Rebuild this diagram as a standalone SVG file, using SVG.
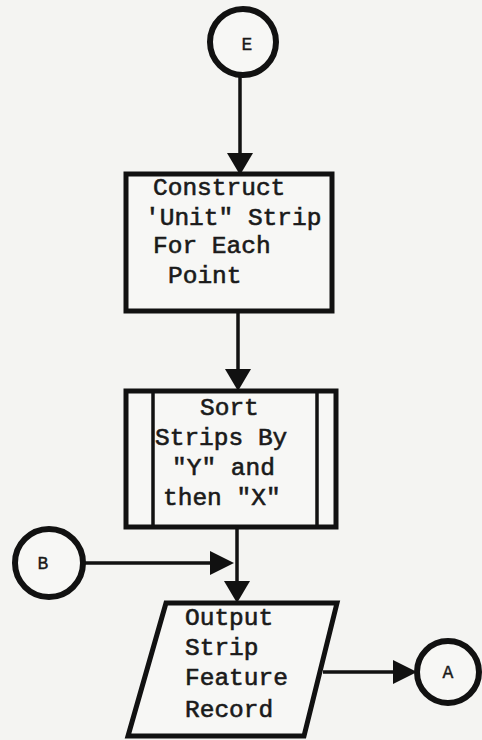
<svg xmlns="http://www.w3.org/2000/svg" width="482" height="740" viewBox="0 0 482 740">
<style>
.bg{fill:#f4f4f2}
.shape{fill:#f7f7f5;stroke:#111;stroke-width:5}
.circ{fill:#f7f7f5;stroke:#111;stroke-width:6}
.line{fill:none;stroke:#111;stroke-width:3.5}
.arr{fill:#111}
.t{font-family:"Liberation Mono","Courier New",monospace;font-size:24.5px;fill:#1a1a1a;stroke:#1a1a1a;stroke-width:0.6}
.c{font-family:"Liberation Mono","Courier New",monospace;font-size:18px;fill:#1a1a1a;text-anchor:middle;stroke:#1a1a1a;stroke-width:0.4}
</style>
<rect class="bg" x="0" y="0" width="482" height="740"/>
<g id="connectors">
  <line class="line" x1="240" y1="76" x2="240" y2="156"/>
  <polygon class="arr" points="227,153 253,153 240,175"/>
  <line class="line" x1="238" y1="312" x2="238" y2="372"/>
  <polygon class="arr" points="225,369 251,369 238,391"/>
  <line class="line" x1="237" y1="528" x2="237" y2="584"/>
  <polygon class="arr" points="224,581 250,581 237,603"/>
  <line class="line" x1="84" y1="563" x2="215" y2="563"/>
  <polygon class="arr" points="210,551 210,575 234,563"/>
  <line class="line" x1="323" y1="672" x2="398" y2="672"/>
  <polygon class="arr" points="393,660 393,684 417,672"/>
</g>
<g id="node-E">
  <circle class="circ" cx="243" cy="42" r="33" stroke-width="7"/>
  <text class="c" x="247" y="50" font-size="16" fill="#666" stroke="#666" stroke-width="0.2">E</text>
</g>
<g id="node-construct">
  <rect class="shape" x="126" y="174" width="206" height="137"/>
  <text class="t" x="153" y="195">Construct</text>
  <text class="t" x="145" y="225">'Unit" Strip</text>
  <text class="t" x="153" y="253">For Each</text>
  <text class="t" x="168" y="283">Point</text>
</g>
<g id="node-sort">
  <rect class="shape" x="126" y="391" width="210" height="136"/>
  <line class="line" x1="153" y1="391" x2="153" y2="527"/>
  <line class="line" x1="317" y1="391" x2="317" y2="527"/>
  <text class="t" x="200" y="415">Sort</text>
  <text class="t" x="155" y="445">Strips By</text>
  <text class="t" x="172" y="475">"Y" and</text>
  <text class="t" x="163" y="505">then "X"</text>
</g>
<g id="node-B">
  <circle class="circ" cx="49" cy="563" r="34" stroke-width="5"/>
  <text class="c" x="43" y="569">B</text>
</g>
<g id="node-output">
  <polygon class="shape" points="166,603 337,603 304,736 128,736"/>
  <text class="t" x="185" y="625">Output</text>
  <text class="t" x="185" y="655">Strip</text>
  <text class="t" x="185" y="685">Feature</text>
  <text class="t" x="185" y="717">Record</text>
</g>
<g id="node-A">
  <circle class="circ" cx="448" cy="672" r="31" stroke-width="5"/>
  <text class="c" x="448" y="678">A</text>
</g>
</svg>
